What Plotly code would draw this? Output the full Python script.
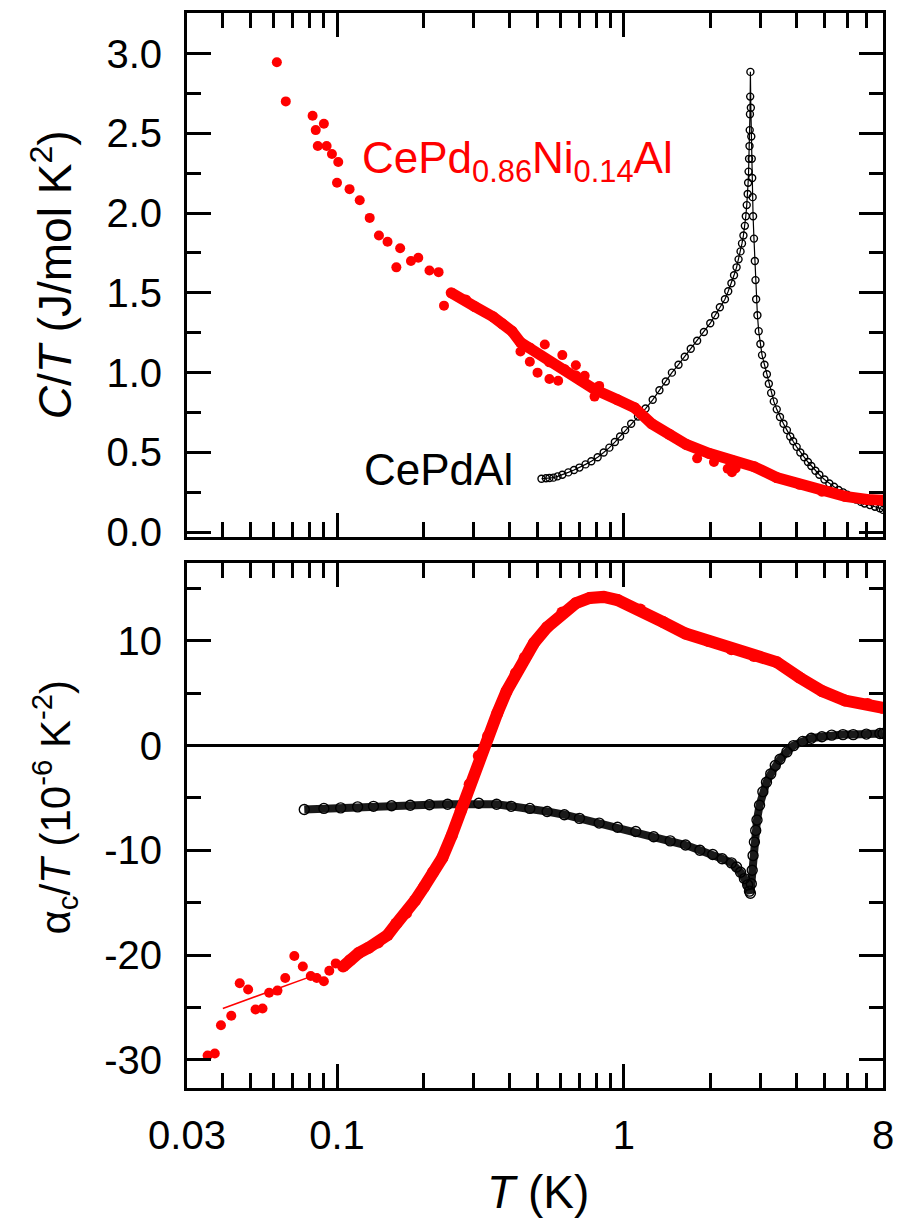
import math
import plotly.graph_objects as go

# ---------------- data ----------------
# C/T of CePd0.86Ni0.14Al: sparse low-temperature points
red_ct_T_low = [0.0617, 0.0663, 0.0822, 0.0843, 0.0857, 0.090, 0.092, 0.096, 0.100, 0.101,
                0.1106, 0.120, 0.130, 0.140, 0.150, 0.161, 0.166, 0.181, 0.192, 0.210,
                0.226, 0.236]
red_ct_low = [2.945, 2.70, 2.61, 2.52, 2.42, 2.56, 2.42, 2.37, 2.19, 2.32,
              2.15, 2.08, 1.97, 1.86, 1.82, 1.66, 1.78, 1.70, 1.72, 1.64,
              1.63, 1.42]
# C/T of CePd0.86Ni0.14Al: dense main branch
red_ct_T = [0.25, 0.281, 0.302, 0.35, 0.377, 0.407, 0.436, 0.47, 0.55, 0.62, 0.68, 0.79,
            0.95, 1.09, 1.25, 1.44, 1.65, 1.98, 2.38, 2.85, 3.41, 4.1, 4.9, 5.9, 7.05, 8.0]
red_ct = [1.50, 1.456, 1.414, 1.35, 1.306, 1.26, 1.19, 1.155, 1.068, 1.02, 0.98, 0.895,
          0.83, 0.78, 0.68, 0.614, 0.55, 0.494, 0.45, 0.41, 0.343, 0.30, 0.257, 0.225, 0.205, 0.20]
# C/T of CePd0.86Ni0.14Al: scattered points around the main branch
red_ct_T_sc = [0.436, 0.47, 0.50, 0.55, 0.59, 0.53, 0.61, 0.68, 0.73, 0.82, 0.79,
               1.8, 2.06, 2.3, 2.38, 2.45]
red_ct_sc = [1.133, 1.068, 1.00, 0.96, 0.949, 1.176, 1.11, 1.046, 0.98, 0.917, 0.85,
             0.463, 0.44, 0.398, 0.376, 0.40]

# C/T of CePdAl
blk_ct_T = [0.516, 0.535, 0.55, 0.568, 0.587, 0.61, 0.64, 0.67, 0.70, 0.735, 0.77, 0.81,
            0.85, 0.89, 0.93, 0.97, 1.01, 1.06, 1.12, 1.19, 1.26, 1.33, 1.40, 1.47, 1.55,
            1.63, 1.71, 1.80, 1.90, 2.00, 2.08, 2.16, 2.25, 2.31, 2.37, 2.42, 2.47, 2.51,
            2.55, 2.58, 2.61, 2.64, 2.66, 2.68, 2.70, 2.71, 2.72, 2.73, 2.74, 2.745, 2.75,
            2.755, 2.76, 2.77, 2.78, 2.79, 2.80, 2.81, 2.82, 2.84, 2.86, 2.875, 2.89, 2.92,
            2.95, 2.99, 3.03, 3.09, 3.15, 3.20, 3.26, 3.33, 3.41, 3.50, 3.60, 3.70, 3.80,
            3.89, 4.0, 4.12, 4.25, 4.38, 4.5, 4.65, 4.8, 5.0, 5.2, 5.4, 5.6, 5.8, 6.0, 6.2,
            6.45, 6.7, 6.9, 7.2, 7.5, 7.8, 8.0]
blk_ct = [0.335, 0.338, 0.34, 0.342, 0.35, 0.36, 0.375, 0.39, 0.405, 0.425, 0.445, 0.47,
          0.50, 0.53, 0.565, 0.60, 0.64, 0.68, 0.725, 0.775, 0.83, 0.89, 0.945, 1.0, 1.05,
          1.10, 1.15, 1.2, 1.255, 1.31, 1.36, 1.41, 1.46, 1.51, 1.56, 1.61, 1.66, 1.71,
          1.76, 1.81, 1.86, 1.92, 1.98, 2.05, 2.12, 2.19, 2.26, 2.34, 2.42, 2.52, 2.62,
          2.73, 2.885, 2.66, 2.48, 2.34, 2.22, 2.10, 1.98, 1.84, 1.70, 1.58, 1.46, 1.36,
          1.26, 1.18, 1.11, 1.05, 0.99, 0.93, 0.873, 0.82, 0.77, 0.722, 0.68, 0.64, 0.60,
          0.57, 0.535, 0.50, 0.47, 0.44, 0.415, 0.385, 0.36, 0.33, 0.305, 0.285, 0.265, 0.25,
          0.235, 0.22, 0.205, 0.19, 0.18, 0.17, 0.16, 0.15, 0.14]

# alpha_c/T of CePd0.86Ni0.14Al: sparse low-temperature points
red_a_T_low = [0.0354, 0.0375, 0.0394, 0.0428, 0.0458, 0.049, 0.052, 0.055, 0.058, 0.062,
               0.066, 0.071, 0.076, 0.081, 0.085, 0.090, 0.094, 0.099]
red_a_low = [-29.6, -29.4, -26.7, -25.8, -22.7, -23.3, -25.2, -25.1, -23.6, -23.4,
             -22.2, -20.1, -21.1, -22.0, -22.2, -22.5, -21.5, -20.8]
# alpha_c/T of CePd0.86Ni0.14Al: dense branch
red_a_T = [0.105, 0.111, 0.119, 0.129, 0.139, 0.150, 0.161, 0.174, 0.187, 0.201, 0.216,
           0.233, 0.251, 0.270, 0.290, 0.312, 0.336, 0.362, 0.390, 0.420, 0.451, 0.486,
           0.54, 0.61, 0.68, 0.76, 0.85, 0.95, 1.14, 1.37, 1.64, 1.97, 2.37, 2.84, 3.41,
           4.09, 4.91, 5.9, 7.07, 8.0]
red_a = [-21.1, -20.5, -19.8, -19.3, -18.8, -18.1, -17.0, -16.0, -14.8, -13.5, -12.1,
         -10.7, -8.6, -6.2, -3.7, -1.0, 0.9, 3.1, 5.2, 6.9, 8.4, 9.8,
         11.3, 12.7, 13.6, 14.1, 14.2, 13.9, 13.0, 11.8, 10.7, 10.0, 9.2, 8.55, 7.97,
         6.5, 5.2, 4.3, 3.97, 3.6]
# low-temperature fit line
fit_T = [0.040, 0.086]
fit_a = [-25.1, -21.8]

# alpha_c/T of CePdAl
blk_a_T = [0.0769, 0.09, 0.103, 0.118, 0.134, 0.155, 0.18, 0.21, 0.243, 0.275, 0.312, 0.36,
           0.405, 0.47, 0.54, 0.62, 0.70, 0.82, 0.95, 1.1, 1.27, 1.45, 1.64, 1.84, 2.04, 2.2,
           2.37, 2.47, 2.55, 2.63, 2.70, 2.74, 2.76, 2.78, 2.80, 2.82, 2.85, 2.88, 2.91,
           2.97, 3.05, 3.14, 3.25, 3.37, 3.5, 3.7, 3.9, 4.2, 4.5, 4.9, 5.3, 5.8, 6.3, 7.0, 7.8, 8.0]
blk_a = [-6.1, -6.0, -5.95, -5.85, -5.8, -5.75, -5.7, -5.65, -5.6, -5.55, -5.5, -5.6,
         -5.8, -6.0, -6.3, -6.6, -6.95, -7.4, -7.8, -8.2, -8.7, -9.1, -9.5, -10.0, -10.4, -10.8,
         -11.2, -11.6, -12.1, -12.7, -13.3, -13.9, -14.1, -13.2, -11.9, -10.5, -9.2, -8.1, -7.1,
         -5.7, -4.4, -3.5, -2.7, -1.9, -1.3, -0.6, 0.0, 0.4, 0.7, 0.85, 1.0, 1.05, 1.05, 1.1, 1.15, 1.15]

# axis ticks
x_tickvals = [0.03, 0.1, 1, 8]
x_ticktext = ["0.03", "0.1", "1", "8"]
x_minorvals = [0.04, 0.05, 0.06, 0.07, 0.08, 0.09, 0.2, 0.3, 0.4, 0.5, 0.6, 0.7, 0.8, 0.9,
               2, 3, 4, 5, 6, 7]
ct_tickvals = [0.0, 0.5, 1.0, 1.5, 2.0, 2.5, 3.0]
ct_ticktext = ["0.0", "0.5", "1.0", "1.5", "2.0", "2.5", "3.0"]
a_tickvals = [-30, -20, -10, 0, 10]
a_ticktext = ["-30", "-20", "-10", "0", "10"]

# ---------------- styles ----------------
RED = "#ff0000"
FONT = "Liberation Sans, Arial, sans-serif"

fig = go.Figure()

red_dot = dict(color=RED, size=10, symbol="circle")
blk_ring = dict(color="black", size=7, symbol="circle-open", line=dict(width=1.4, color="black"))

# top panel
fig.add_trace(go.Scatter(x=blk_ct_T, y=blk_ct, mode="lines+markers", xaxis="x", yaxis="y",
                         line=dict(color="black", width=1.2), marker=blk_ring))
fig.add_trace(go.Scatter(x=red_ct_T, y=red_ct, mode="lines+markers", xaxis="x", yaxis="y",
                         line=dict(color=RED, width=11), marker=dict(red_dot, size=11)))
fig.add_trace(go.Scatter(x=red_ct_T_sc, y=red_ct_sc, mode="markers", xaxis="x", yaxis="y",
                         marker=red_dot))
fig.add_trace(go.Scatter(x=red_ct_T_low, y=red_ct_low, mode="markers", xaxis="x", yaxis="y",
                         marker=red_dot))

# bottom panel: CePdAl as a dense band of open rings
fig.add_trace(go.Scatter(x=blk_a_T, y=blk_a, mode="lines", xaxis="x2", yaxis="y2",
                         line=dict(color="#1a1a1a", width=8)))
fig.add_trace(go.Scatter(x=blk_a_T, y=blk_a, mode="markers", xaxis="x2", yaxis="y2",
                         marker=dict(blk_ring, size=10)))
fig.add_trace(go.Scatter(x=red_a_T, y=red_a, mode="lines+markers", xaxis="x2", yaxis="y2",
                         line=dict(color=RED, width=12), marker=dict(red_dot, size=12)))
fig.add_trace(go.Scatter(x=red_a_T_low, y=red_a_low, mode="markers", xaxis="x2", yaxis="y2",
                         marker=red_dot))
fig.add_trace(go.Scatter(x=fit_T, y=fit_a, mode="lines", xaxis="x2", yaxis="y2",
                         line=dict(color=RED, width=1.5)))

frame = dict(showline=True, linewidth=3, linecolor="black", mirror="ticks",
             ticks="inside", tickwidth=3, tickcolor="black", showgrid=False)

xcommon = dict(frame, type="log", range=[math.log10(0.03), math.log10(8)],
               tickvals=x_tickvals, ticktext=x_ticktext, ticklen=24, zeroline=False,
               minor=dict(tickvals=x_minorvals, ticks="inside", ticklen=15,
                          tickwidth=3, tickcolor="black", showgrid=False))

fig.update_layout(
    width=906, height=1219,
    margin=dict(l=187, r=23, t=10, b=131),
    paper_bgcolor="white", plot_bgcolor="white",
    showlegend=False,
    font=dict(family=FONT, size=40, color="black"),
    xaxis=dict(xcommon, anchor="y", domain=[0, 1], showticklabels=False),
    xaxis2=dict(xcommon, anchor="y2", domain=[0, 1], showticklabels=True,
                ticklabelstandoff=10),
    yaxis=dict(frame, domain=[0.513, 1.0], anchor="x", range=[-0.027, 3.254],
               tickvals=ct_tickvals, ticktext=ct_ticktext, ticklen=24, zeroline=False,
               ticklabelstandoff=14,
               minor=dict(dtick=0.25, tick0=0, ticks="inside", ticklen=14,
                          tickwidth=3, tickcolor="black", showgrid=False)),
    yaxis2=dict(frame, domain=[0.0, 0.488], anchor="x2", range=[-32.7, 17.4],
                tickvals=a_tickvals, ticktext=a_ticktext, ticklen=24,
                zeroline=True, zerolinecolor="black", zerolinewidth=3,
                ticklabelstandoff=14,
                minor=dict(dtick=5, tick0=0, ticks="inside", ticklen=14,
                           tickwidth=3, tickcolor="black", showgrid=False)),
)

annotations = [
    dict(text="<i>C</i>/<i>T</i> (J/mol K<sup>2</sup>)", x=-0.194, y=0.757,
         textangle=-90, font=dict(size=46)),
    dict(text="α<sub>c</sub>/<i>T</i> (10<sup>-6</sup> K<sup>-2</sup>)", x=-0.19, y=0.2616,
         textangle=-90, font=dict(size=42)),
    dict(text="<i>T</i> (K)", x=0.504, y=-0.0965, font=dict(size=46)),
    dict(text="CePd<sub>0.86</sub>Ni<sub>0.14</sub>Al", x=0.2486, y=0.862, xanchor="left",
         font=dict(size=44, color=RED)),
    dict(text="CePdAl", x=0.2514, y=0.575, xanchor="left", font=dict(size=44, color="black")),
]
for a in annotations:
    a.setdefault("xanchor", "center")
    a.update(xref="paper", yref="paper", yanchor="middle", showarrow=False)
fig.update_layout(annotations=annotations)

fig.write_html("out.html")
